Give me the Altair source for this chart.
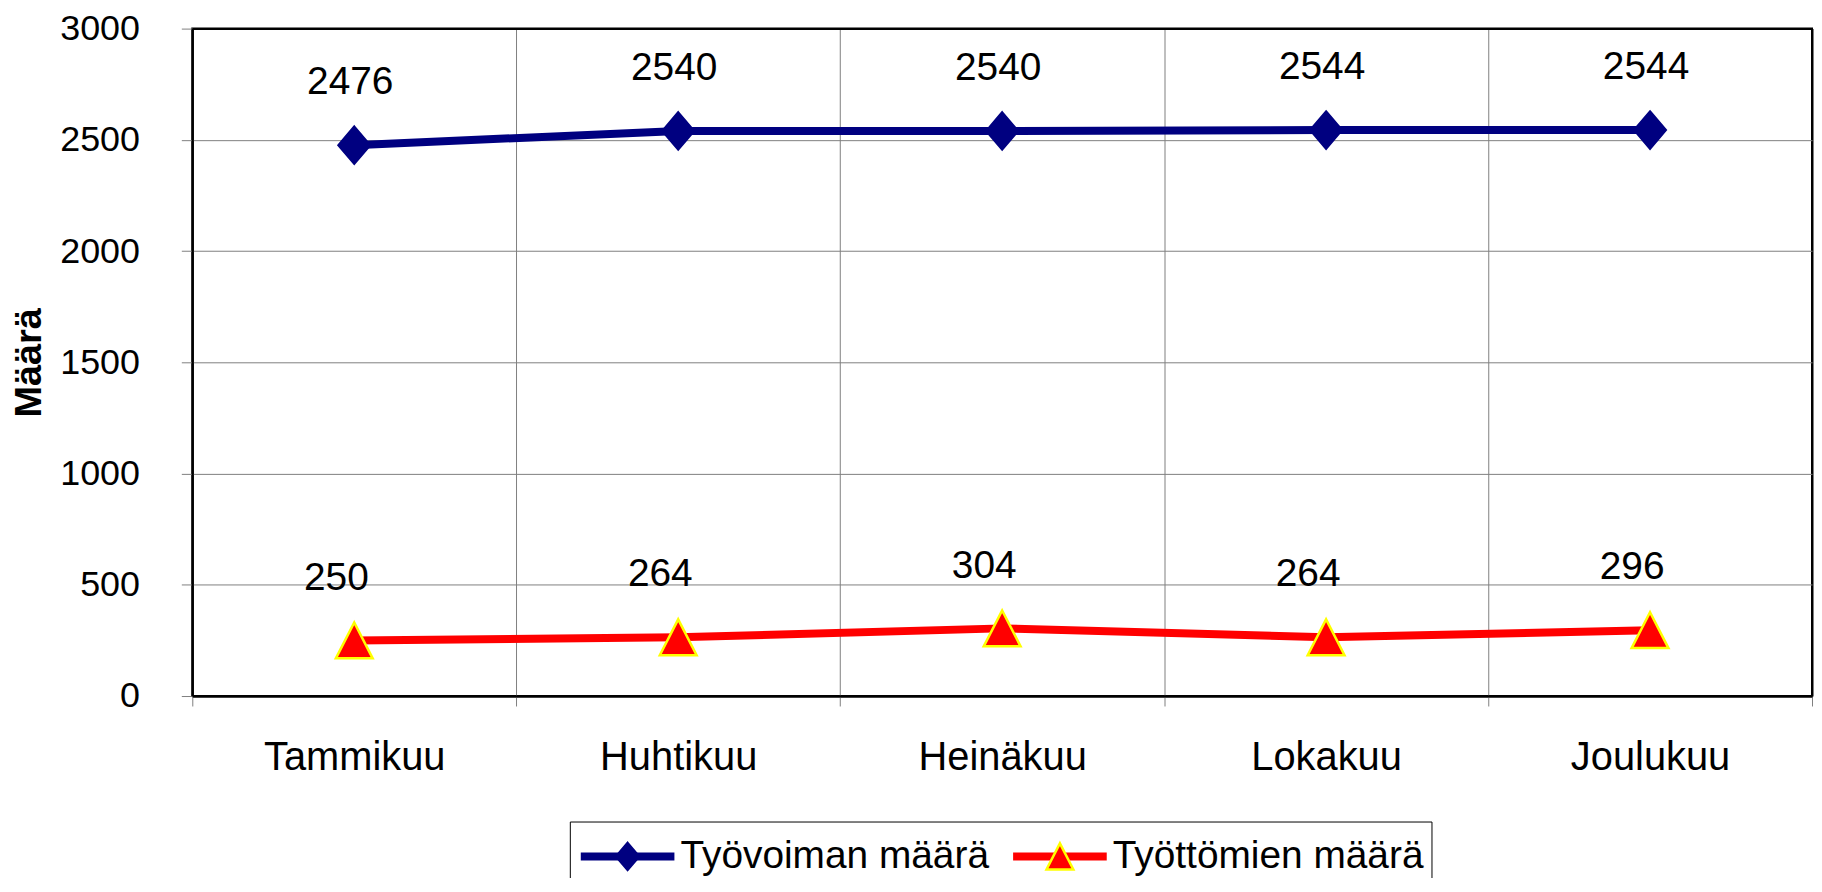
import altair as alt
import pandas as pd

# ---- data ----
months = ["Tammikuu", "Huhtikuu", "Heinäkuu", "Lokakuu", "Joulukuu"]
series_names = ["Työvoiman määrä", "Työttömien määrä"]
series_keys = ["s0", "s1"]
tyovoima = [2476, 2540, 2540, 2544, 2544]
tyottomat = [250, 264, 304, 264, 296]
y_ticks = [0, 500, 1000, 1500, 2000, 2500, 3000]

# ---- styles ----
line_colors = ["#000080", "#FF0000"]
marker_fills = ["#000080", "#FF0000"]
marker_strokes = ["#000080", "#FFFF00"]
marker_paths = [
    "M0,-0.271L0.231,0L0,0.271L-0.231,0Z",
    "M0,-0.264L0.271,0.264L-0.271,0.264Z",
]
label_dx = [-4, -18]
FONT = "Liberation Sans"
GRID = "#808080"
NBSP = "\u00a0"

rows = []
for name, key, vals in zip(series_names, series_keys, [tyovoima, tyottomat]):
    for m, v in zip(months, vals):
        rows.append({"month": m, "series": name, "skey": key, "value": v})
df = pd.DataFrame(rows)

x_enc = alt.X(
    "month:N",
    sort=months,
    scale=alt.Scale(type="band", paddingInner=0, paddingOuter=0),
    axis=alt.Axis(
        title=None,
        labelAngle=0,
        labelFont=FONT,
        labelFontSize=40,
        labelColor="black",
        labelPadding=32,
        labelLimit=0,
        tickBand="extent",
        tickSize=10,
        tickColor=GRID,
        tickWidth=1,
        domainColor="black",
        domainWidth=2,
        grid=True,
        gridColor={"condition": {"test": "datum.value === 'Joulukuu' || datum.index < 0", "value": "black"}, "value": GRID},
        gridWidth={"condition": {"test": "datum.value === 'Joulukuu' || datum.index < 0", "value": 2}, "value": 1},
    ),
)

y_enc = alt.Y(
    "value:Q",
    scale=alt.Scale(domain=[0, 3000], nice=False),
    axis=alt.Axis(
        values=y_ticks,
        format="d",
        title="Määrä",
        titleFont=FONT,
        titleFontSize=38,
        titleFontWeight="bold",
        titleColor="black",
        titleX=-163,
        titleY=335,
        titleAngle=270,
        titleAlign="center",
        titleBaseline="middle",
        labelFont=FONT,
        labelFontSize=36,
        labelColor="black",
        labelPadding=42,
        tickSize=11,
        tickColor=GRID,
        tickWidth=1,
        domainColor="black",
        domainWidth=2,
        grid=True,
        gridColor={"condition": {"test": "datum.value === 0 || datum.value === 3000", "value": "black"}, "value": GRID},
        gridWidth={"condition": {"test": "datum.value === 0 || datum.value === 3000", "value": 2}, "value": 1},
    ),
)

common_legend = dict(
    orient="none",
    legendX=379,
    legendY=796,
    direction="horizontal",
    title=None,
    labelFont=FONT,
    labelFontSize=39,
    labelLimit=0,
    labelOffset=2,
    clipHeight=56,
    padding=7,
    columnPadding=20,
)

label_expr_lines = "datum.value === '%s' ? '%s' : '%s'" % (
    series_keys[0], series_names[0], series_names[1] + NBSP)
label_expr_marks = "datum.value === '%s' ? '%s' : '%s'" % (
    series_names[0], series_names[0], series_names[1] + NBSP)

legend_lines = alt.Legend(
    **common_legend,
    labelExpr=label_expr_lines,
    labelColor="black",
    symbolType="M-1,0L1,0",
    symbolSize=94 * 94,
    symbolStrokeWidth=8,
    strokeColor="black",
    fillColor="white",
    zindex=1,
)

legend_marks = alt.Legend(
    **common_legend,
    labelExpr=label_expr_marks,
    labelOpacity=0,
    symbolSize=99.5 * 99.5,
    symbolStrokeWidth=2.5,
    symbolOpacity=1,
    zindex=2,
)

lines = alt.Chart(df).mark_line(strokeWidth=8).encode(
    x=x_enc,
    y=y_enc,
    color=alt.Color("skey:N", scale=alt.Scale(domain=series_keys, range=line_colors), legend=legend_lines),
)

points = alt.Chart(df).mark_point(filled=True, size=18605, strokeWidth=2.5, opacity=1).encode(
    x=x_enc,
    y=y_enc,
    shape=alt.Shape("series:N", scale=alt.Scale(domain=series_names, range=marker_paths), legend=legend_marks),
    fill=alt.Fill("series:N", scale=alt.Scale(domain=series_names, range=marker_fills), legend=legend_marks),
    stroke=alt.Stroke("series:N", scale=alt.Scale(domain=series_names, range=marker_strokes), legend=legend_marks),
)

texts = []
for key, dxv in zip(series_keys, label_dx):
    texts.append(
        alt.Chart(df)
        .transform_filter(alt.datum.skey == key)
        .mark_text(dx=dxv, dy=-63, font=FONT, fontSize=39, color="black", baseline="middle", align="center")
        .encode(x=x_enc, y=y_enc, text=alt.Text("value:Q", format="d"))
    )

chart = (
    alt.layer(lines, points, *texts)
    .properties(
        width=1626,
        height=670,
        autosize=alt.AutoSizeParams(type="none"),
        padding={"left": 185, "top": 19, "right": 2, "bottom": 181},
    )
    .configure(font=FONT)
    .configure_view(stroke="black", strokeWidth=2)
)

chart.save("out.html", embed_options={"renderer": "svg", "actions": False})
